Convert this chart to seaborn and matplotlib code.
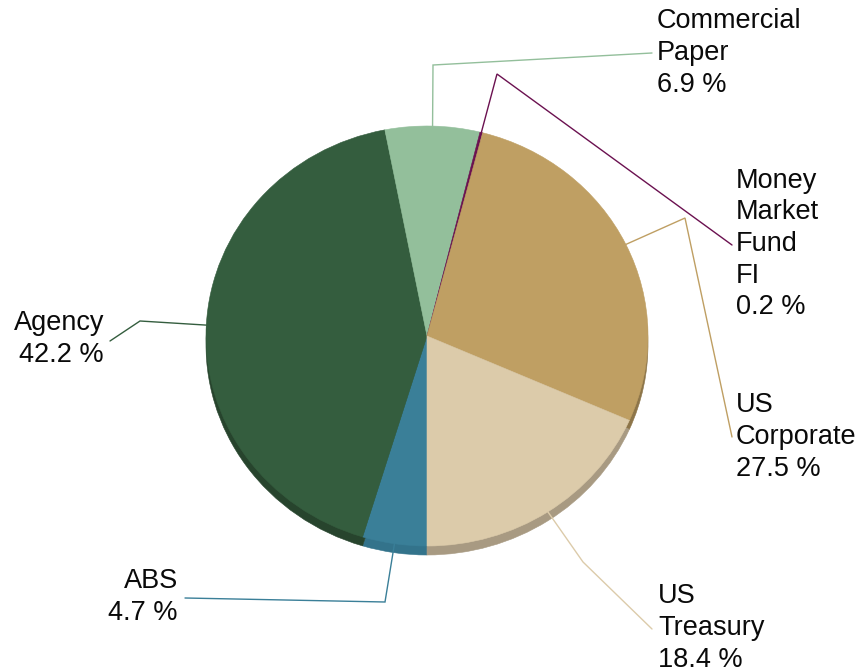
import matplotlib
matplotlib.use("Agg")
import matplotlib.pyplot as plt
import seaborn as sns
import numpy as np

# Portfolio allocation by sector (percent), drawn clockwise from 6 o'clock
sectors = ["ABS", "Agency", "Commercial\nPaper", "Money\nMarket\nFund\nFI",
           "US\nCorporate", "US\nTreasury"]
shares = [4.7, 42.2, 6.9, 0.2, 27.5, 18.4]
top_colors = ["#3a7f98", "#345d3e", "#93bf9b", "#6b1150", "#bf9f63", "#dccbaa"]
side_colors = ["#33738b", "#27442d", "#7ea686", "#551040", "#8d7549", "#a89a82"]

sns.set_style("white")
plt.rcParams["font.family"] = ["Liberation Sans", "DejaVu Sans"]

W, H = 860, 672
cx, cy = 427, 336          # pie centre in pixels (y from top)
rx, ry = 221, 210          # elliptical radii
depth = 9                  # visible thickness of the disc

fig = plt.figure(figsize=(W / 100, H / 100), dpi=100)
ax = fig.add_axes([0, 0, 1, 1])

palette_top = sns.color_palette(top_colors)
palette_side = sns.color_palette(side_colors)

# side of the disc: same pie shifted downwards in darker tones
side, _ = ax.pie(shares, colors=palette_side, startangle=270, counterclock=False,
                 center=(0, -depth / ry), radius=1)
top, _ = ax.pie(shares, colors=palette_top, startangle=270, counterclock=False,
                center=(0, 0), radius=1)
for w in list(side) + list(top):
    w.set_edgecolor(w.get_facecolor())
    w.set_linewidth(0.4)
ax.set_aspect("auto")
ax.set_xlim(-cx / rx, (W - cx) / rx)
ax.set_ylim(-(H - cy) / ry, cy / ry)
ax.axis("off")

# overlay in pixel coordinates for leader lines and labels
ov = fig.add_axes([0, 0, 1, 1])
ov.set_xlim(0, W)
ov.set_ylim(H, 0)
ov.axis("off")
ov.patch.set_alpha(0)

# (elbow, end of line, text x, text centre y, alignment) per sector
layout = [
    ((385, 602), (185, 598), 178, 597, "right"),
    ((140, 321), (110, 341), 104, 339, "right"),
    ((433, 65), (652, 53), 657, 53, "left"),
    ((497, 74), (732, 245), 736, 244, "left"),
    ((685, 218), (732, 437), 736, 437, "left"),
    ((583, 562), (652, 629), 658, 628, "left"),
]

for w, name, val, col, (elbow, end, tx, ty, ha) in zip(top, sectors, shares,
                                                       top_colors, layout):
    mid = np.deg2rad((w.theta1 + w.theta2) / 2)
    ax0 = cx + rx * np.cos(mid)
    ay0 = cy - ry * np.sin(mid)
    ov.plot([ax0, elbow[0], end[0]], [ay0, elbow[1], end[1]],
            color=col, lw=1.0, solid_joinstyle="miter")
    ov.text(tx, ty, f"{name}\n{val} %", ha=ha, va="center", multialignment=ha,
            fontsize=19.5, color="#0a0a0a", linespacing=1.28)

fig.savefig("out.png", dpi=100)
